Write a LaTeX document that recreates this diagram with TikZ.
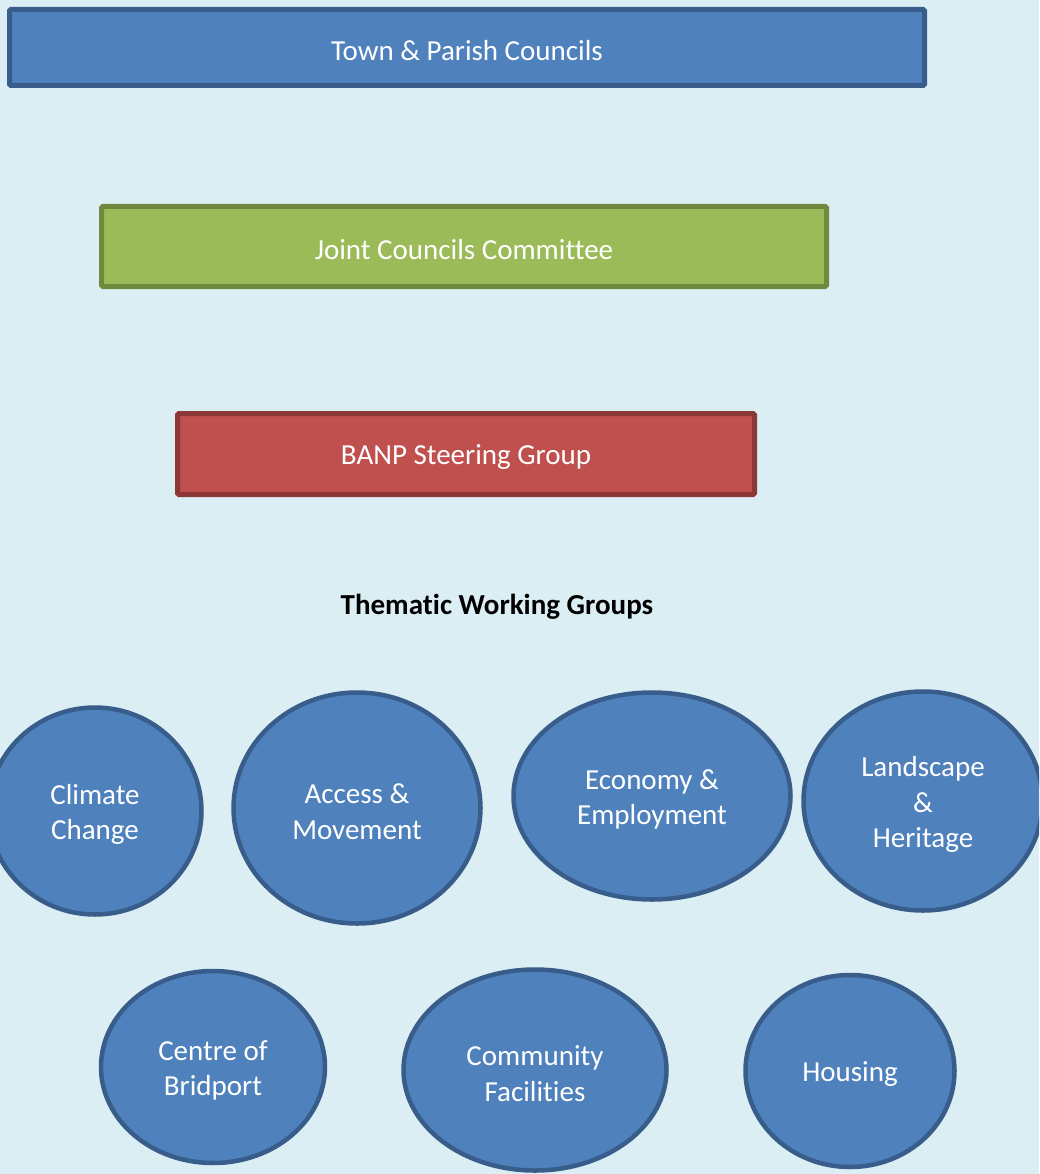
\documentclass[tikz,border=0pt]{standalone}
\usepackage{fontspec}
\setmainfont{Carlito}[Ligatures=NoCommon, RawFeature={-liga;-clig;-calt;-dlig}]
\usetikzlibrary{shapes.geometric}
\definecolor{bgblue}{HTML}{DBEEF4}
\definecolor{accblue}{HTML}{4F81BD}
\definecolor{accblueline}{HTML}{385D8A}
\definecolor{accgreen}{HTML}{9BBB59}
\definecolor{accgreenline}{HTML}{71893F}
\definecolor{accred}{HTML}{C0504D}
\definecolor{accredline}{HTML}{8C3836}
\tikzset{
  bar/.style={rectangle, rounded corners=1.5pt, line width=5pt, inner sep=0pt},
  topic/.style={ellipse, draw=accblueline, fill=accblue, line width=4.5pt, inner sep=0pt},
  boxtext/.style={text=white, align=center, yshift=-3.5pt, inner sep=0pt,
    font=\fontsize{29}{35.4}\selectfont},
  heading/.style={font=\fontsize{29}{35.4}\selectfont\bfseries, text=black}
}
\begin{document}
\begin{tikzpicture}[x=1pt,y=-1pt]
\useasboundingbox (0,0) rectangle (1039,1174);
\clip (0,0) rectangle (1039,1174);
\fill[bgblue] (0,0) rectangle (1039,1174);

\node[bar, draw=accblueline, fill=accblue, minimum width=915pt, minimum height=76pt,
  label={[boxtext]center:Town \& Parish Councils}] (town) at (467,47.5) {};
\node[bar, draw=accgreenline, fill=accgreen, minimum width=725pt, minimum height=80pt,
  label={[boxtext]center:Joint Councils Committee}] (joint) at (464,246.5) {};
\node[bar, draw=accredline, fill=accred, minimum width=577pt, minimum height=81pt,
  label={[boxtext]center:BANP Steering Group}] (banp) at (466,454) {};

\node[heading] (twg) at (497,606.5) {Thematic Working Groups};

\node[topic, minimum width=213pt, minimum height=207pt,
  label={[boxtext]center:Climate\\Change}] (climate) at (95,811) {};
\node[topic, minimum width=247pt, minimum height=231pt,
  label={[boxtext]center:Access \&\\Movement}] (access) at (357,808) {};
\node[topic, minimum width=277pt, minimum height=207pt,
  label={[boxtext]center:Economy \&\\Employment}] (economy) at (652,796) {};
\node[topic, minimum width=239pt, minimum height=219pt,
  label={[boxtext]center:Landscape\\\&\\Heritage}] (landscape) at (923,801) {};

\node[topic, minimum width=224pt, minimum height=192pt,
  label={[boxtext]center:Centre of\\Bridport}] (centre) at (213,1067) {};
\node[topic, minimum width=263pt, minimum height=201pt,
  label={[boxtext]center:Community\\Facilities}] (community) at (535,1070) {};
\node[topic, minimum width=209pt, minimum height=192pt,
  label={[boxtext]center:Housing}] (housing) at (850,1071) {};
\end{tikzpicture}
\end{document}
